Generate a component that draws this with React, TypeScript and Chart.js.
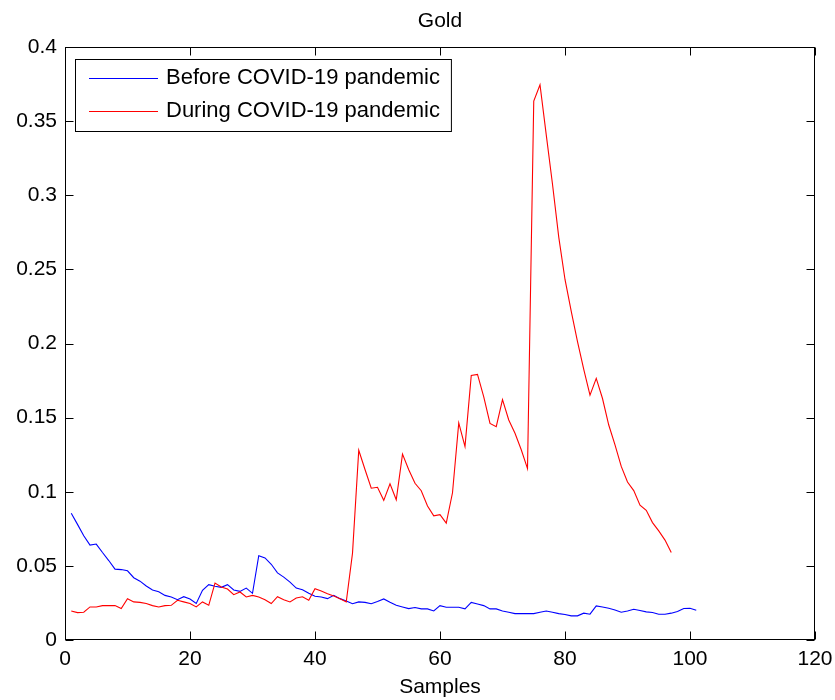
import React, { useEffect, useRef } from "react";
import { Chart, registerables } from "chart.js";

Chart.register(...registerables);

const TITLE = "Gold";
const X_LABEL = "Samples";
const SERIES_NAMES = ["Before COVID-19 pandemic", "During COVID-19 pandemic"];
const SERIES_COLORS = ["#0000FF", "#FF0000"];

const BEFORE = [
  0.0855, 0.078, 0.0703, 0.064, 0.0647, 0.059, 0.0536, 0.0478, 0.0475, 0.0467,
  0.042, 0.0397, 0.0364, 0.0337, 0.0326, 0.0301, 0.029, 0.0272, 0.0292, 0.0277,
  0.0246, 0.0335, 0.0373, 0.0362, 0.0355, 0.0373, 0.0337, 0.0328, 0.035, 0.0315,
  0.0569, 0.0554, 0.0511, 0.0453, 0.0424, 0.039, 0.035, 0.0339, 0.0315, 0.0295,
  0.029, 0.0279, 0.0301, 0.0279, 0.0263, 0.0245, 0.0257, 0.0254, 0.0245, 0.026,
  0.0277, 0.0254, 0.0234, 0.0223, 0.0212, 0.0219, 0.021, 0.021, 0.0196, 0.0232,
  0.0221, 0.0221, 0.0221, 0.021, 0.0254, 0.0243, 0.0232, 0.021, 0.021, 0.0196,
  0.0187, 0.0178, 0.0178, 0.0178, 0.0178, 0.0187, 0.0196, 0.0187, 0.0178, 0.0172,
  0.0163, 0.0163, 0.0181, 0.0174, 0.023, 0.0223, 0.0214, 0.0203, 0.0187, 0.0196,
  0.0207, 0.0199, 0.019, 0.0185, 0.0174, 0.0174, 0.0181, 0.0192, 0.0212, 0.0214,
  0.0201,
];

const DURING = [
  0.0196, 0.0185, 0.0187, 0.0223, 0.0223, 0.0232, 0.0232, 0.0232, 0.0212, 0.0279,
  0.0257, 0.0254, 0.0246, 0.0232, 0.0223, 0.0232, 0.0234, 0.0268, 0.0257, 0.0246,
  0.0223, 0.0257, 0.0234, 0.0384, 0.0357, 0.0344, 0.0306, 0.0324, 0.029, 0.0301,
  0.029, 0.0272, 0.0246, 0.0292, 0.0272, 0.0257, 0.0283, 0.0292, 0.0268, 0.0346,
  0.033, 0.0312, 0.0297, 0.0279, 0.0257, 0.0585, 0.128, 0.115, 0.1024, 0.103,
  0.0942, 0.1054, 0.0946, 0.1254, 0.1149, 0.1057, 0.1007, 0.0904, 0.0837, 0.0845,
  0.0788, 0.0993, 0.1464, 0.1305, 0.1785, 0.1792, 0.164, 0.1461, 0.1439, 0.1622,
  0.1484, 0.1394, 0.1283, 0.1156, 0.3635, 0.3745, 0.3407, 0.3074, 0.2718, 0.2432,
  0.2216, 0.2012, 0.1825, 0.1651, 0.1765, 0.1629, 0.145, 0.1316, 0.1171, 0.1066,
  0.1008, 0.091, 0.0875, 0.0792, 0.0736, 0.0674, 0.0591,
];

const X_MIN = 0;
const X_MAX = 120;
const X_STEP = 20;
const Y_MIN = 0;
const Y_MAX = 0.4;
const Y_STEP = 0.05;

const FONT = "'Liberation Sans', Arial, Helvetica, sans-serif";
const FONT_SIZE = 21;
const LEGEND_FONT_SIZE = 22;
const TICK_LEN = 8;

const toPoints = (arr: number[]) => arr.map((v, i) => ({ x: i + 1, y: v }));

const framePlugin = {
  id: "matlabFrame",
  afterDatasetsDraw(chart: any) {
    const { ctx, chartArea, scales } = chart;
    const { left, right, top, bottom } = chartArea;
    const xs = scales.x;
    const ys = scales.y;
    ctx.save();
    ctx.strokeStyle = "#000";
    ctx.lineWidth = 1;
    const L = Math.round(left) + 0.5;
    const R = Math.round(right) - 0.5;
    const T = Math.round(top) + 0.5;
    const B = Math.round(bottom) - 0.5;
    ctx.strokeRect(L, T, R - L, B - T);
    ctx.beginPath();
    xs.ticks.forEach((t: any) => {
      const px = Math.round(xs.getPixelForValue(t.value)) + 0.5;
      ctx.moveTo(px, B);
      ctx.lineTo(px, B - TICK_LEN);
      ctx.moveTo(px, T);
      ctx.lineTo(px, T + TICK_LEN);
    });
    ys.ticks.forEach((t: any) => {
      const py = Math.round(ys.getPixelForValue(t.value)) + 0.5;
      ctx.moveTo(L, py);
      ctx.lineTo(L + TICK_LEN, py);
      ctx.moveTo(R, py);
      ctx.lineTo(R - TICK_LEN, py);
    });
    ctx.stroke();

    // title
    ctx.fillStyle = "#000";
    ctx.font = `${FONT_SIZE}px ${FONT}`;
    ctx.textAlign = "center";
    ctx.textBaseline = "middle";
    ctx.fillText(TITLE, (left + right) / 2, 21);

    // legend
    ctx.font = `${LEGEND_FONT_SIZE}px ${FONT}`;
    ctx.textAlign = "left";
    const bx = Math.round(left) + 10;
    const by = Math.round(top) + 12;
    const lineStart = bx + 14;
    const lineEnd = bx + 83;
    const textX = bx + 91;
    const rowH = 33;
    const firstRow = by + 19;
    let maxW = 0;
    SERIES_NAMES.forEach((n) => {
      maxW = Math.max(maxW, ctx.measureText(n).width);
    });
    const bw = textX + maxW + 11 - bx;
    const bh = 72;
    ctx.fillStyle = "#fff";
    ctx.fillRect(bx, by, bw, bh);
    ctx.strokeStyle = "#000";
    ctx.strokeRect(bx + 0.5, by + 0.5, bw, bh);
    SERIES_NAMES.forEach((n, i) => {
      const cy = firstRow + i * rowH;
      ctx.strokeStyle = SERIES_COLORS[i];
      ctx.beginPath();
      ctx.moveTo(lineStart, cy + 0.5);
      ctx.lineTo(lineEnd, cy + 0.5);
      ctx.stroke();
      ctx.fillStyle = "#000";
      ctx.fillText(n, textX, cy);
    });
    ctx.restore();
  },
};

export default function App() {
  const ref = useRef<HTMLCanvasElement | null>(null);
  useEffect(() => {
    if (!ref.current) return;
    Chart.defaults.color = "#000";
    const chart = new Chart(ref.current, {
      type: "line",
      data: {
        datasets: [
          {
            label: SERIES_NAMES[0],
            data: toPoints(BEFORE),
            borderColor: SERIES_COLORS[0],
            backgroundColor: SERIES_COLORS[0],
            borderWidth: 1.1,
            pointRadius: 0,
            tension: 0,
            order: 1,
          },
          {
            label: SERIES_NAMES[1],
            data: toPoints(DURING),
            borderColor: SERIES_COLORS[1],
            backgroundColor: SERIES_COLORS[1],
            borderWidth: 1.1,
            pointRadius: 0,
            tension: 0,
            order: 0,
          },
        ],
      },
      options: {
        animation: false,
        responsive: false,
        devicePixelRatio: 1,
        layout: { padding: { top: 47, right: 20, left: 0, bottom: 0 } },
        plugins: {
          legend: { display: false },
          title: { display: false },
          tooltip: { enabled: false },
        },
        scales: {
          x: {
            type: "linear",
            min: X_MIN,
            max: X_MAX,
            grid: { display: false, drawTicks: false, tickLength: 0 },
            border: { display: false },
            ticks: {
              stepSize: X_STEP,
              padding: 7,
              color: "#000",
              font: { family: FONT, size: FONT_SIZE },
              maxRotation: 0,
            },
            title: {
              display: true,
              text: X_LABEL,
              color: "#000",
              font: { family: FONT, size: FONT_SIZE },
              padding: { top: 0, bottom: 0 },
            },
            afterFit: (s: any) => {
              s.height = 60;
              s.paddingLeft = 0;
              s.paddingRight = 0;
            },
          },
          y: {
            type: "linear",
            min: Y_MIN,
            max: Y_MAX,
            grid: { display: false, drawTicks: false, tickLength: 0 },
            border: { display: false },
            ticks: {
              stepSize: Y_STEP,
              padding: 8,
              color: "#000",
              font: { family: FONT, size: FONT_SIZE },
              callback: (v: any) => String(+Number(v).toFixed(2)),
            },
            afterFit: (s: any) => {
              s.width = 65;
              s.paddingTop = 0;
              s.paddingBottom = 0;
            },
          },
        },
      },
      plugins: [framePlugin],
    });
    return () => chart.destroy();
  }, []);
  return (
    <div style={{ position: "absolute", left: 0, top: 0, width: 835, height: 700, background: "#fff" }}>
      <canvas ref={ref} width={835} height={700} style={{ display: "block" }} />
    </div>
  );
}
